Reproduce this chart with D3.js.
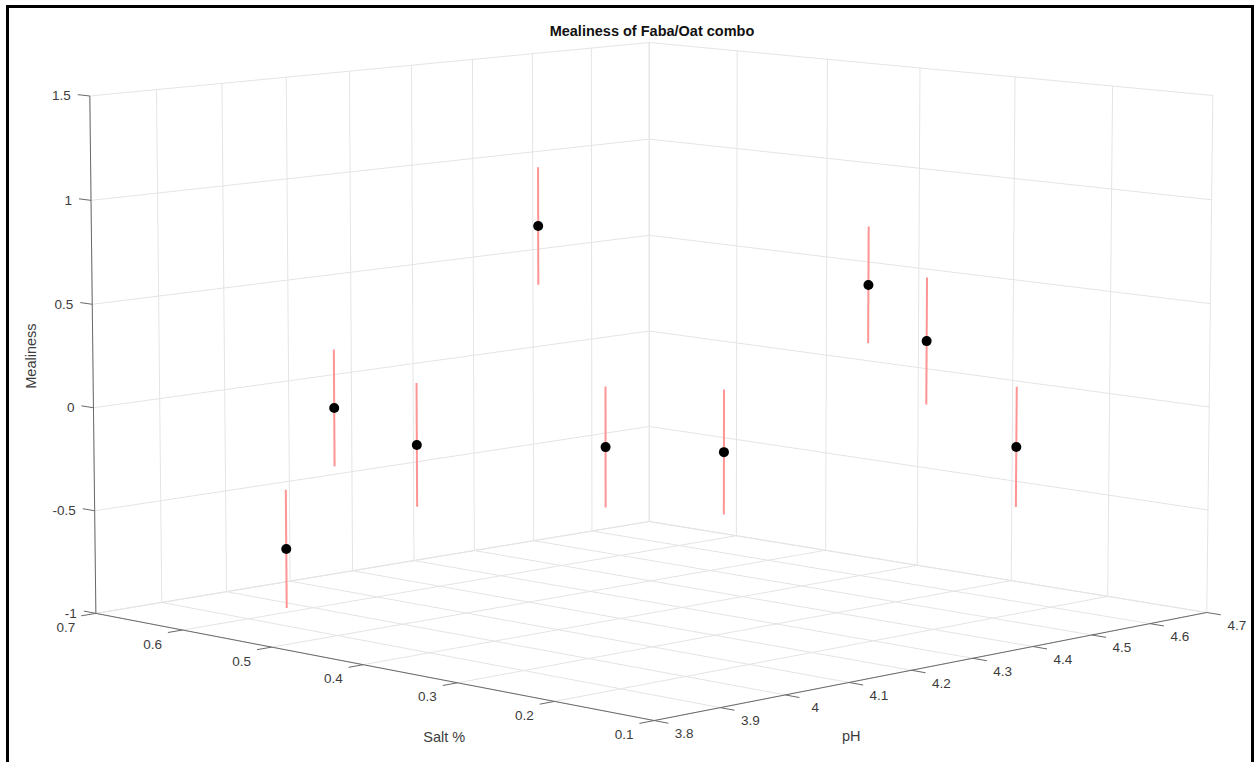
<!DOCTYPE html>
<html><head><meta charset="utf-8">
<script src="https://cdn.jsdelivr.net/npm/d3@7"></script>
<style>body{margin:0;background:#fff}text{font-family:"Liberation Sans",Arial,Helvetica,sans-serif}</style>
</head><body>
<svg id="c" width="1256" height="762"></svg>
<script>
// ---- data ----
const salt      = [0.542, 0.649, 0.494, 0.579, 0.329, 0.298, 0.375, 0.292, 0.163];
const pH        = [3.880, 4.102, 4.015, 4.332, 4.070, 4.211, 4.572, 4.537, 4.476];
const mealiness = [-0.607, -0.102, -0.138, 0.748, -0.060, -0.128, 0.480, 0.268, -0.133];
const errBar    = [0.284, 0.289, 0.298, 0.292, 0.286, 0.298, 0.289, 0.310, 0.288];
const saltTicks = [0.1, 0.2, 0.3, 0.4, 0.5, 0.6, 0.7];
const pHTicks   = [3.8, 3.9, 4.0, 4.1, 4.2, 4.3, 4.4, 4.5, 4.6, 4.7];
const zTicks    = [-1, -0.5, 0, 0.5, 1, 1.5];
const title = "Mealiness of Faba/Oat combo";

// ---- 3D scales and camera ----
const sS = d3.scaleLinear().domain([0.7, 0.1]).range([-1, 1]);
const tS = d3.scaleLinear().domain([3.8, 4.7]).range([-1, 1]);
const wS = d3.scaleLinear().domain([-1, 1.5]).range([-1, 1]);
const cam = {az: 0.7810, el: 0.1409, D: 17.1688, k: 394.8992, hz: 0.6614, cx: 651.5269, cy: 355.7387};
function P(sa, ph, z) {
  const s = sS(sa), t = tS(ph), w = wS(z);
  const a = cam.az, b = cam.el;
  const h = s*Math.cos(a) + t*Math.sin(a), d = s*Math.sin(a) - t*Math.cos(a), v = w*cam.hz;
  const yc = v*Math.cos(b) - d*Math.sin(b), zc = cam.D - d*Math.cos(b) - v*Math.sin(b);
  const f = cam.k*cam.D;
  return [cam.cx + f*h/zc, cam.cy - f*yc/zc];
}

const svg = d3.select("#c");
const gridC = "#e4e4e4", axisC = "#6a6a6a", textC = "#3c3c3c";
function seg(g, a, b, color, w) {
  g.append("line").attr("x1", a[0]).attr("y1", a[1]).attr("x2", b[0]).attr("y2", b[1])
    .attr("stroke", color).attr("stroke-width", w);
}
const fmt = v => String(v);

// grid
const grid = svg.append("g");
const [s0, s1] = [0.7, 0.1], [p0, p1] = [3.8, 4.7], [z0, z1] = [-1, 1.5];
pHTicks.forEach(p => { seg(grid, P(s0, p, z0), P(s0, p, z1), gridC, 1); seg(grid, P(s0, p, z0), P(s1, p, z0), gridC, 1); });
saltTicks.forEach(s => { seg(grid, P(s, p1, z0), P(s, p1, z1), gridC, 1); seg(grid, P(s, p0, z0), P(s, p1, z0), gridC, 1); });
zTicks.forEach(z => { seg(grid, P(s0, p0, z), P(s0, p1, z), gridC, 1); seg(grid, P(s0, p1, z), P(s1, p1, z), gridC, 1); });

// axes
const ax = svg.append("g");
seg(ax, P(s0, p0, z0), P(s0, p0, z1), axisC, 1);
seg(ax, P(s0, p0, z0), P(s1, p0, z0), axisC, 1);
seg(ax, P(s1, p0, z0), P(s1, p1, z0), axisC, 1);
const tickS = 0.014, tickP = 0.022;
zTicks.forEach(z => {
  seg(ax, P(s0, p0, z), P(s0 + tickS, p0, z), axisC, 1);
  const q = P(s0, p0, z);
  ax.append("text").attr("x", q[0] - 19).attr("y", q[1]).attr("text-anchor", "end")
    .attr("dominant-baseline", "central").attr("font-size", 13.5).attr("fill", textC).text(fmt(z));
});
saltTicks.forEach(s => {
  seg(ax, P(s, p0, z0), P(s, p0 - tickP, z0), axisC, 1);
  const q = P(s, p0, z0);
  ax.append("text").attr("x", q[0] - 30).attr("y", q[1] + 14).attr("text-anchor", "middle")
    .attr("dominant-baseline", "central").attr("font-size", 13.5).attr("fill", textC).text(fmt(s));
});
pHTicks.forEach(p => {
  seg(ax, P(s1, p, z0), P(s1 - tickS, p, z0), axisC, 1);
  const q = P(s1, p, z0);
  ax.append("text").attr("x", q[0] + 30).attr("y", q[1] + 13).attr("text-anchor", "middle")
    .attr("dominant-baseline", "central").attr("font-size", 13.5).attr("fill", textC).text(fmt(p));
});

// axis labels
const ms = P(0.4, p0, z0), mp = P(s1, 4.25, z0), mz = P(s0, p0, 0.25);
svg.append("text").attr("x", ms[0] + 81).attr("y", ms[1] + 72).attr("text-anchor", "middle")
  .attr("dominant-baseline", "central").attr("font-size", 14.5).attr("fill", textC).text("Salt %");
svg.append("text").attr("x", mp[0] - 91).attr("y", mp[1] + 72).attr("text-anchor", "middle")
  .attr("dominant-baseline", "central").attr("font-size", 14.5).attr("fill", textC).text("pH");
svg.append("text").attr("transform", `translate(${mz[0] - 62},${mz[1]}) rotate(-90)`).attr("text-anchor", "middle")
  .attr("dominant-baseline", "central").attr("font-size", 14.5).attr("fill", textC).text("Mealiness");

// title
svg.append("text").attr("x", 652).attr("y", 31).attr("text-anchor", "middle").attr("dominant-baseline", "central")
  .attr("font-size", 14.5).attr("font-weight", "bold").attr("fill", "#111").text(title);

// error bars and points
const data = salt.map((s, i) => ({s, p: pH[i], z: mealiness[i], e: errBar[i]}));
const marks = svg.append("g");
data.forEach(d => seg(marks, P(d.s, d.p, d.z - d.e), P(d.s, d.p, d.z + d.e), "#ff9494", 2));
marks.selectAll("circle").data(data).join("circle")
  .attr("cx", d => P(d.s, d.p, d.z)[0]).attr("cy", d => P(d.s, d.p, d.z)[1])
  .attr("r", 5).attr("fill", "#000");

// frame
svg.append("rect").attr("x", 7.5).attr("y", 6.5).attr("width", 1245).attr("height", 800)
  .attr("fill", "none").attr("stroke", "#000").attr("stroke-width", 3);
</script>
</body></html>
